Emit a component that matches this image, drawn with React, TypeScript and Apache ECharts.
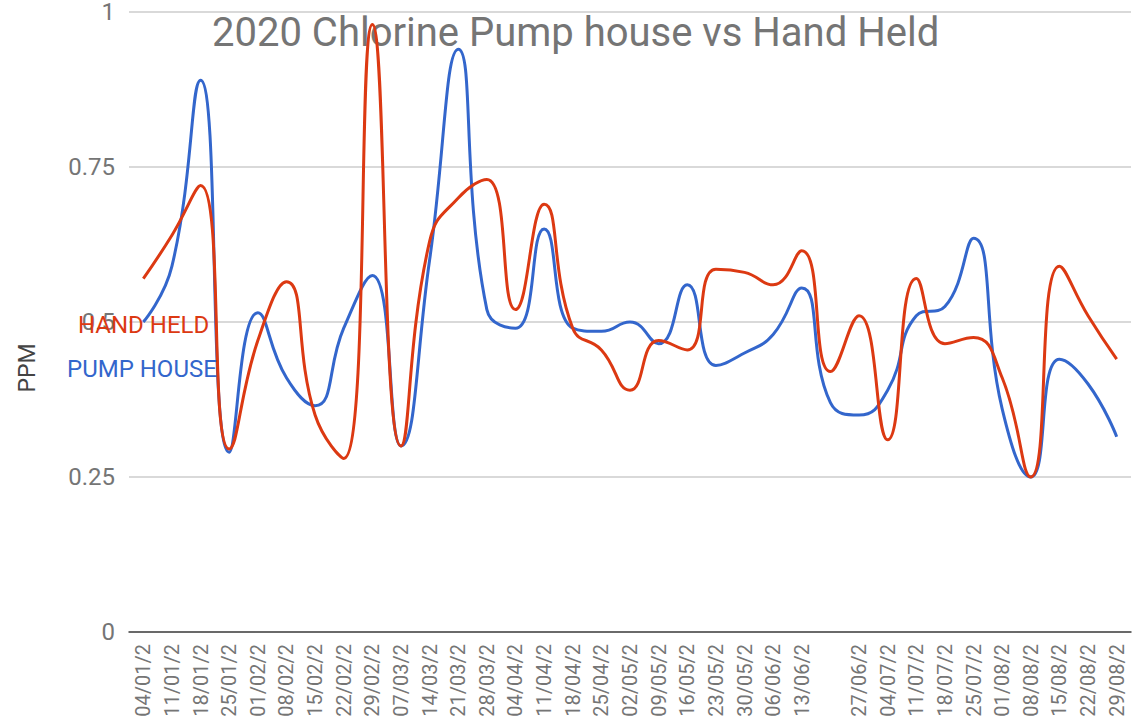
import React, { useEffect, useRef } from "react";
import * as echarts from "echarts";

const categories: string[] = [
  "04/01/2020", "11/01/2020", "18/01/2020", "25/01/2020",
  "01/02/2020", "08/02/2020", "15/02/2020", "22/02/2020", "29/02/2020",
  "07/03/2020", "14/03/2020", "21/03/2020", "28/03/2020",
  "04/04/2020", "11/04/2020", "18/04/2020", "25/04/2020",
  "02/05/2020", "09/05/2020", "16/05/2020", "23/05/2020", "30/05/2020",
  "06/06/2020", "13/06/2020", "", "27/06/2020",
  "04/07/2020", "11/07/2020", "18/07/2020", "25/07/2020",
  "01/08/2020", "08/08/2020", "15/08/2020", "22/08/2020", "29/08/2020",
];

const handHeld: number[] = [
  0.57, 0.64, 0.72, 0.295, 0.47, 0.565, 0.35, 0.28, 0.98, 0.3,
  0.63, 0.7, 0.73, 0.52, 0.69, 0.49, 0.455, 0.39, 0.47, 0.455,
  0.585, 0.58, 0.56, 0.615, 0.42, 0.51, 0.31, 0.57, 0.465, 0.475,
  0.41, 0.25, 0.59, 0.51, 0.44,
];

const pumpHouse: number[] = [
  0.5, 0.59, 0.89, 0.29, 0.515, 0.41, 0.365, 0.49, 0.575, 0.3,
  0.6, 0.94, 0.52, 0.49, 0.65, 0.49, 0.485, 0.5, 0.465, 0.56,
  0.43, 0.45, 0.48, 0.555, 0.37, 0.35, 0.39, 0.51, 0.525, 0.635,
  0.36, 0.25, 0.44, 0.4, 0.315,
];

const yTicks = { min: 0, max: 1, interval: 0.25 };

const TITLE = "2020 Chlorine Pump house vs Hand Held";
const RED = "#dc3912";
const BLUE = "#3366cc";
const FONT = "Roboto";

export default function App() {
  const ref = useRef<HTMLDivElement>(null);
  useEffect(() => {
    if (!ref.current) return;
    const chart = echarts.init(ref.current, undefined, { renderer: "svg" });
    chart.setOption({
      animation: false,
      backgroundColor: "#ffffff",
      title: {
        text: TITLE,
        left: 212,
        top: 12,
        padding: 0,
        z: 0,
        textStyle: { fontFamily: FONT, fontSize: 40, fontWeight: "normal", color: "#757575" },
      },
      legend: [
        {
          data: ["HAND HELD"],
          left: 73,
          top: 313,
          padding: 0,
          itemWidth: 0,
          itemHeight: 0,
          icon: "rect",
          textStyle: { fontFamily: FONT, fontSize: 24, color: RED },
        },
        {
          data: ["PUMP HOUSE"],
          left: 62,
          top: 357,
          padding: 0,
          itemWidth: 0,
          itemHeight: 0,
          icon: "rect",
          textStyle: { fontFamily: FONT, fontSize: 24, color: BLUE },
        },
      ],
      grid: { left: 129, right: 4, top: 9, bottom: 95, containLabel: false },
      xAxis: {
        type: "category",
        data: categories,
        boundaryGap: true,
        axisLine: { show: true, lineStyle: { color: "#444", width: 1.5 } },
        axisTick: { show: false },
        axisLabel: {
          interval: 0,
          rotate: 90,
          margin: 12,
          fontFamily: FONT,
          fontSize: 20,
          color: "#757575",
          formatter: (v: string) => v.slice(0, 7),
        },
        splitLine: { show: false },
      },
      yAxis: {
        type: "value",
        min: yTicks.min,
        max: yTicks.max,
        interval: yTicks.interval,
        name: "PPM",
        nameLocation: "middle",
        nameGap: 90,
        nameRotate: 90,
        nameTextStyle: {
          fontFamily: FONT,
          fontSize: 23,
          color: "#444",
          padding: [0, 92, 0, 0],
        },
        axisLine: { show: false },
        axisTick: { show: false },
        axisLabel: { margin: 14, fontFamily: FONT, fontSize: 24, color: "#757575" },
        splitLine: { show: true, lineStyle: { color: "#cccccc", width: 1.5 } },
      },
      series: [
        {
          name: "PUMP HOUSE",
          type: "line",
          data: pumpHouse,
          smooth: 0.5,
          showSymbol: false,
          symbol: "none",
          z: 3,
          lineStyle: { color: BLUE, width: 3 },
          itemStyle: { color: BLUE },
        },
        {
          name: "HAND HELD",
          type: "line",
          data: handHeld,
          smooth: 0.5,
          showSymbol: false,
          symbol: "none",
          z: 3,
          lineStyle: { color: RED, width: 3 },
          itemStyle: { color: RED },
        },
      ],
    });
    return () => chart.dispose();
  }, []);
  return (
    <div
      ref={ref}
      style={{ position: "fixed", left: 0, top: 0, width: 1135, height: 727 }}
    />
  );
}
